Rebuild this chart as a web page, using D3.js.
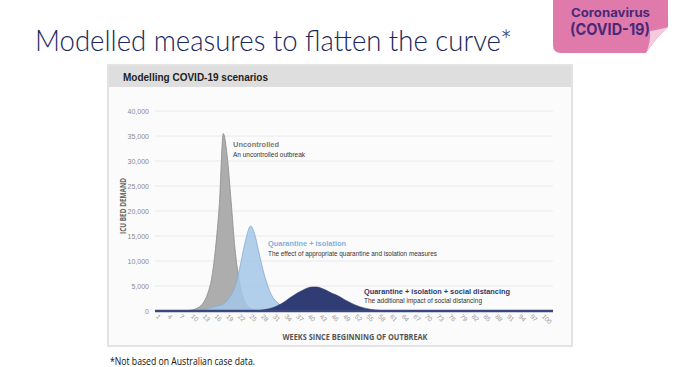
<!DOCTYPE html>
<html><head><meta charset="utf-8">
<script src="https://cdn.jsdelivr.net/npm/d3@7"></script>
<style>html,body{margin:0;padding:0;background:#fff;overflow:hidden}</style>
</head><body><svg id="c" width="700" height="367"></svg>
<script>
const weekTicks = [1,4,7,10,13,16,19,22,25,28,31,34,37,40,43,46,49,52,55,58,61,64,67,70,73,76,79,82,85,88,91,94,97,100];
const yTicks = [0,5000,10000,15000,20000,25000,30000,35000,40000];

const uncontrolledWeeks  = [1, 8, 9, 10, 11, 12, 13, 14, 15, 16, 17, 18, 19, 20, 21, 22, 23, 24, 25, 26, 27, 28, 100];
const uncontrolledValues = [0, 30, 80, 200, 450, 900, 1800, 3500, 6500, 12500, 21500, 35500, 31000, 22000, 12500, 6500, 3000, 1200, 500, 200, 80, 20, 0];

const quarantineWeeks  = [1, 9, 10, 11, 12, 13, 14, 15, 16, 17, 18, 19, 20, 21, 22, 23, 24, 25, 26, 27, 28, 29, 30, 31, 32, 33, 34, 35, 36, 37, 38, 100];
const quarantineValues = [0, 10, 50, 100, 200, 350, 500, 700, 900, 1100, 1400, 2100, 3200, 4800, 7800, 11600, 15000, 17000, 15500, 12200, 8800, 6000, 3800, 2400, 1600, 900, 450, 200, 80, 30, 0, 0];

const distancingWeeks  = [1, 25, 26, 27, 28, 29, 30, 31, 32, 33, 34, 35, 36, 37, 38, 39, 40, 41, 42, 43, 44, 45, 46, 47, 48, 49, 50, 51, 52, 53, 54, 55, 56, 57, 58, 59, 60, 61, 100];
const distancingValues = [0, 10, 40, 100, 200, 330, 500, 750, 1100, 1500, 2000, 2600, 3100, 3600, 4000, 4400, 4700, 4800, 4800, 4600, 4300, 3900, 3500, 3200, 2800, 2300, 1900, 1500, 1150, 850, 620, 440, 300, 200, 120, 60, 20, 0, 0];

const svg = d3.select('#c');

// Badge
svg.append('path')
  .attr('d', 'M553,0 L668,0 L668,27 Q656,38 646,53 L561,53 Q553,53 553,45 Z')
  .attr('fill', '#e07aab');
svg.append('path')
  .attr('d', 'M668,27 Q657,30 650,31 Q651,42 646,53 Q656,38 668,27 Z')
  .attr('fill', '#f4cadd');
svg.append('text').attr('x', 571).attr('y', 17)
  .attr('font-family', 'Inter, "Noto Sans", sans-serif').attr('font-weight', 700)
  .attr('font-size', 12).attr('fill', '#4a2878')
  .attr('textLength', 79).attr('lengthAdjust', 'spacingAndGlyphs')
  .text('Coronavirus');
svg.append('text').attr('x', 570).attr('y', 35)
  .attr('font-family', 'Inter, "Noto Sans", sans-serif').attr('font-weight', 700)
  .attr('font-size', 16).attr('fill', '#4a2878')
  .attr('textLength', 80).attr('lengthAdjust', 'spacingAndGlyphs')
  .text('(COVID-19)');

// Title
svg.append('text').attr('x', 35).attr('y', 51)
  .attr('font-family', 'Lato, "Open Sans", sans-serif').attr('font-weight', 300)
  .attr('font-size', 30).attr('fill', '#1a285c')
  .attr('textLength', 477).attr('lengthAdjust', 'spacingAndGlyphs')
  .text('Modelled measures to flatten the curve*');

// Panel
svg.append('rect').attr('x', 108).attr('y', 65).attr('width', 464).attr('height', 281)
  .attr('fill', '#fbfbfb').attr('stroke', '#e3e3e3').attr('stroke-width', 2);
svg.append('rect').attr('x', 109).attr('y', 66).attr('width', 462).attr('height', 21)
  .attr('fill', '#dedede');
svg.append('text').attr('x', 123).attr('y', 80.5)
  .attr('font-family', '"Liberation Sans", Arial, sans-serif').attr('font-weight', 700)
  .attr('font-size', 10).attr('fill', '#222')
  .text('Modelling COVID-19 scenarios');

const x = d3.scaleLinear().domain([1, 100]).range([157, 543]);
const y = d3.scaleLinear().domain([0, 40000]).range([311, 111]);

// Gridlines
svg.append('g').selectAll('line').data(yTicks.filter(v => v > 0)).join('line')
  .attr('x1', 155).attr('x2', 553)
  .attr('y1', d => y(d)).attr('y2', d => y(d))
  .attr('stroke', '#eaeaea').attr('stroke-width', 1);

// Y labels
svg.append('g').selectAll('text').data(yTicks).join('text')
  .attr('x', 149).attr('y', d => y(d) + 2.5)
  .attr('text-anchor', 'end')
  .attr('font-family', '"Liberation Sans", Arial, sans-serif')
  .attr('font-size', 7).attr('fill', '#8a8a8a')
  .text(d => d3.format(',')(d));

// Y title
svg.append('text')
  .attr('transform', 'translate(125.5,206) rotate(-90)')
  .attr('text-anchor', 'middle')
  .attr('font-family', '"Open Sans", sans-serif').attr('font-weight', 700)
  .attr('font-size', 8.5).attr('fill', '#666')
  .attr('textLength', 56).attr('lengthAdjust', 'spacingAndGlyphs')
  .text('ICU BED DEMAND');

// Areas
const area = d3.area().x(d => x(d[0])).y0(y(0)).y1(d => y(d[1])).curve(d3.curveMonotoneX);
const zip = (a, b) => a.map((w, i) => [w, b[i]]);

svg.append('path').datum(zip(uncontrolledWeeks, uncontrolledValues))
  .attr('d', area).attr('fill', '#adadad').attr('stroke', '#8c8c8c').attr('stroke-width', 0.8);
svg.append('path').datum(zip(quarantineWeeks, quarantineValues))
  .attr('d', area).attr('fill', '#a3c5e6').attr('fill-opacity', 0.85)
  .attr('stroke', '#84acd6').attr('stroke-width', 0.8);
svg.append('path').datum(zip(distancingWeeks, distancingValues))
  .attr('d', area).attr('fill', '#2f3d74').attr('stroke', '#2a376b').attr('stroke-width', 0.6);

// Baseline
svg.append('line').attr('x1', 155).attr('x2', 553).attr('y1', y(0)).attr('y2', y(0))
  .attr('stroke', '#3a4880').attr('stroke-width', 2.4);

// X labels
svg.append('g').selectAll('text').data(weekTicks).join('text')
  .attr('transform', d => `translate(${x(d) - 1.5},317) rotate(45)`)
  .attr('text-anchor', 'start')
  .attr('font-family', '"Liberation Sans", Arial, sans-serif')
  .attr('font-size', 6.5).attr('fill', '#9a9a9a')
  .text(d => d);

// X title
svg.append('text').attr('x', 355).attr('y', 340)
  .attr('text-anchor', 'middle')
  .attr('font-family', '"Open Sans", sans-serif').attr('font-weight', 700)
  .attr('font-size', 8.5).attr('fill', '#555')
  .attr('textLength', 145).attr('lengthAdjust', 'spacingAndGlyphs')
  .text('WEEKS SINCE BEGINNING OF OUTBREAK');

// Annotations
const ann = (xx, yy, txt, size, weight, color, len) => {
  const t = svg.append('text').attr('x', xx).attr('y', yy)
    .attr('font-family', '"Liberation Sans", Arial, sans-serif')
    .attr('font-size', size).attr('font-weight', weight).attr('fill', color)
    .text(txt);
  if (len) t.attr('textLength', len).attr('lengthAdjust', 'spacingAndGlyphs');
};
ann(233, 147, 'Uncontrolled', 7.5, 700, '#7a7a7a', 46);
ann(233, 157, 'An uncontrolled outbreak', 6.5, 400, '#333', 72);
ann(268, 245.5, 'Quarantine + isolation', 7.5, 700, '#7fb1dc', 78);
ann(268, 256, 'The effect of appropriate quarantine and isolation measures', 6.5, 400, '#333', 169);
ann(364, 293.5, 'Quarantine + isolation + social distancing', 7.5, 700, '#2b3a70', 146);
ann(364, 303, 'The additional impact of social distancing', 6.5, 400, '#333', 118);

// Footnote
svg.append('text').attr('x', 110).attr('y', 365)
  .attr('font-family', '"Open Sans", sans-serif')
  .attr('font-size', 10).attr('fill', '#111')
  .attr('textLength', 145).attr('lengthAdjust', 'spacingAndGlyphs')
  .text('*Not based on Australian case data.');
</script>
</body></html>
